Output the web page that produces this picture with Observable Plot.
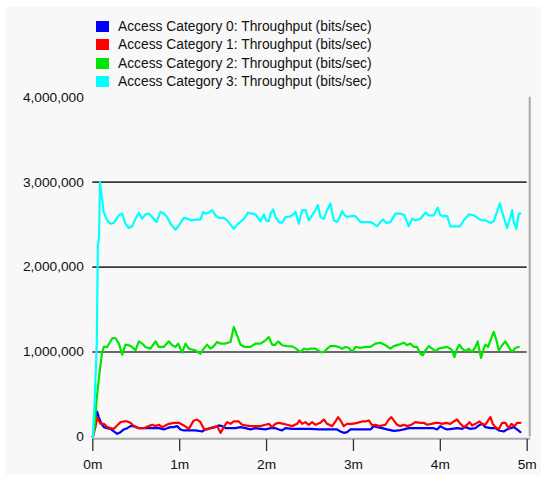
<!DOCTYPE html>
<html>
<head>
<meta charset="utf-8">
<script src="https://cdn.jsdelivr.net/npm/d3@7"></script>
<script src="https://cdn.jsdelivr.net/npm/@observablehq/plot@0.6"></script>
<style>
  html, body { margin: 0; padding: 0; background: #ffffff; }
  #wrap { position: relative; width: 547px; height: 481px; overflow: hidden; font-family: "Liberation Sans", Arial, sans-serif; }
  #panel { position: absolute; left: 6px; top: 7px; width: 535px; height: 468px; background: #f8f8f8; }
  #chart { position: absolute; left: 0; top: 0; }
  #legend { position: absolute; left: 96px; top: 17px; font-size: 13.8px; color: #111; }
  .row { display: flex; align-items: center; height: 18.5px; white-space: nowrap; }
  .sw { width: 13px; height: 11px; margin-right: 9px; flex: none; }
</style>
</head>
<body>
<div id="wrap">
  <div id="panel"></div>
  <div id="chart"></div>
  <div id="legend"></div>
</div>
<script>
// Series names and colours
const seriesNames = [
  "Access Category 0: Throughput (bits/sec)",
  "Access Category 1: Throughput (bits/sec)",
  "Access Category 2: Throughput (bits/sec)",
  "Access Category 3: Throughput (bits/sec)"
];
const seriesColors = ["#0000ff", "#ff0000", "#00e600", "#00ffff"];

// [time (minutes), throughput (Mbit/s)]
const ac0 = [[0,0],[0.031,0.214],[0.05,0.30],[0.069,0.234],[0.10,0.155],[0.127,0.116],[0.165,0.104],[0.204,0.096],[0.242,0.065],[0.28,0.037],[0.319,0.057],[0.357,0.089],[0.396,0.104],[0.434,0.128],[0.472,0.128],[0.53,0.104],[0.606,0.104],[0.683,0.104],[0.76,0.104],[0.817,0.089],[0.856,0.104],[0.894,0.116],[0.932,0.116],[0.971,0.128],[1.009,0.089],[1.048,0.077],[1.105,0.077],[1.182,0.077],[1.259,0.065],[1.297,0.089],[1.354,0.104],[1.412,0.116],[1.45,0.136],[1.489,0.128],[1.527,0.104],[1.585,0.104],[1.642,0.104],[1.70,0.116],[1.757,0.104],[1.815,0.089],[1.872,0.104],[1.93,0.096],[1.987,0.089],[2.045,0.104],[2.102,0.104],[2.141,0.089],[2.179,0.077],[2.217,0.104],[2.294,0.096],[2.409,0.096],[2.505,0.096],[2.601,0.089],[2.678,0.089],[2.755,0.089],[2.812,0.089],[2.851,0.065],[2.889,0.049],[2.927,0.057],[2.966,0.089],[3.062,0.089],[3.138,0.089],[3.196,0.089],[3.234,0.128],[3.272,0.116],[3.33,0.104],[3.387,0.089],[3.464,0.073],[3.522,0.077],[3.579,0.089],[3.637,0.104],[3.713,0.104],[3.79,0.104],[3.867,0.104],[3.924,0.104],[3.963,0.089],[4.001,0.128],[4.039,0.104],[4.078,0.089],[4.135,0.096],[4.193,0.104],[4.251,0.096],[4.289,0.116],[4.347,0.096],[4.404,0.104],[4.443,0.136],[4.481,0.155],[4.519,0.116],[4.577,0.104],[4.634,0.104],[4.672,0.077],[4.73,0.065],[4.768,0.089],[4.807,0.104],[4.845,0.116],[4.883,0.089],[4.922,0.057]];

const ac1 = [[0,0],[0.031,0.12],[0.05,0.23],[0.089,0.155],[0.127,0.155],[0.165,0.116],[0.204,0.104],[0.242,0.096],[0.28,0.136],[0.319,0.175],[0.357,0.183],[0.396,0.183],[0.434,0.167],[0.472,0.128],[0.53,0.104],[0.587,0.104],[0.645,0.128],[0.683,0.144],[0.722,0.128],[0.76,0.144],[0.798,0.116],[0.837,0.136],[0.875,0.155],[0.932,0.167],[0.99,0.167],[1.048,0.136],[1.105,0.096],[1.163,0.195],[1.201,0.206],[1.239,0.175],[1.278,0.096],[1.316,0.089],[1.354,0.104],[1.393,0.116],[1.431,0.128],[1.47,0.049],[1.508,0.116],[1.546,0.175],[1.585,0.155],[1.623,0.183],[1.68,0.183],[1.719,0.144],[1.757,0.136],[1.815,0.128],[1.872,0.128],[1.93,0.128],[1.987,0.144],[2.026,0.155],[2.064,0.116],[2.102,0.155],[2.141,0.167],[2.198,0.155],[2.237,0.144],[2.294,0.128],[2.352,0.155],[2.379,0.195],[2.409,0.155],[2.448,0.175],[2.486,0.144],[2.524,0.175],[2.563,0.144],[2.62,0.167],[2.659,0.206],[2.697,0.155],[2.755,0.128],[2.793,0.183],[2.824,0.234],[2.851,0.195],[2.889,0.128],[2.927,0.155],[2.985,0.155],[3.042,0.167],[3.1,0.183],[3.138,0.183],[3.177,0.195],[3.215,0.136],[3.253,0.144],[3.299,0.128],[3.368,0.144],[3.407,0.206],[3.437,0.234],[3.464,0.195],[3.502,0.144],[3.541,0.128],[3.579,0.144],[3.618,0.128],[3.667,0.144],[3.713,0.175],[3.771,0.167],[3.81,0.167],[3.848,0.144],[3.898,0.155],[3.944,0.167],[3.982,0.167],[4.02,0.155],[4.066,0.167],[4.116,0.155],[4.155,0.183],[4.193,0.206],[4.231,0.155],[4.27,0.116],[4.308,0.144],[4.335,0.175],[4.366,0.136],[4.404,0.155],[4.45,0.183],[4.481,0.155],[4.519,0.144],[4.55,0.195],[4.577,0.234],[4.604,0.155],[4.634,0.116],[4.672,0.089],[4.711,0.167],[4.749,0.167],[4.787,0.104],[4.818,0.155],[4.856,0.128],[4.883,0.167],[4.922,0.167]];

const ac2 = [[0,0],[0.02,0.12],[0.045,0.45],[0.08,0.78],[0.108,1.00],[0.127,1.06],[0.165,1.06],[0.223,1.16],[0.261,1.165],[0.30,1.10],[0.338,0.97],[0.376,1.087],[0.415,1.08],[0.453,1.06],[0.491,1.02],[0.53,1.126],[0.568,1.10],[0.606,1.06],[0.664,1.04],[0.722,1.126],[0.76,1.06],[0.817,1.06],[0.875,1.126],[0.913,1.08],[0.952,1.06],[0.982,1.10],[1.028,0.993],[1.067,1.10],[1.105,1.04],[1.143,1.03],[1.182,1.02],[1.239,0.98],[1.278,1.04],[1.316,1.087],[1.354,1.04],[1.393,1.07],[1.431,1.118],[1.47,1.10],[1.527,1.10],[1.585,1.118],[1.623,1.295],[1.661,1.197],[1.70,1.087],[1.749,1.06],[1.815,1.06],[1.872,1.10],[1.93,1.10],[1.987,1.138],[2.026,1.177],[2.064,1.087],[2.095,1.08],[2.133,1.126],[2.179,1.08],[2.237,1.07],[2.294,1.067],[2.34,1.04],[2.39,1.00],[2.428,1.04],[2.467,1.03],[2.505,1.04],[2.563,1.04],[2.62,1.00],[2.659,1.00],[2.697,1.04],[2.735,1.07],[2.793,1.07],[2.831,1.06],[2.87,1.04],[2.908,1.06],[2.946,1.05],[2.985,1.00],[3.023,1.06],[3.081,1.05],[3.138,1.06],[3.196,1.06],[3.253,1.10],[3.311,1.11],[3.368,1.08],[3.426,1.04],[3.464,1.07],[3.522,1.087],[3.579,1.11],[3.618,1.08],[3.656,1.10],[3.694,1.06],[3.733,1.06],[3.771,0.98],[3.798,0.96],[3.829,1.02],[3.867,1.07],[3.905,1.04],[3.944,1.01],[3.982,1.04],[4.02,1.05],[4.078,1.06],[4.116,1.04],[4.135,1.02],[4.162,0.94],[4.193,1.04],[4.22,1.087],[4.251,1.04],[4.289,1.01],[4.327,1.04],[4.366,1.00],[4.404,1.06],[4.431,1.126],[4.45,1.02],[4.469,0.93],[4.5,1.04],[4.519,1.087],[4.55,1.06],[4.577,1.138],[4.615,1.236],[4.646,1.138],[4.672,1.02],[4.711,1.08],[4.749,1.126],[4.787,1.06],[4.826,1.00],[4.864,1.05],[4.903,1.06]];

const ac3 = [[0,0],[0.02,0.4],[0.046,1.1],[0.058,2.25],[0.072,2.35],[0.083,3.0],[0.095,2.9],[0.11,2.78],[0.125,2.65],[0.165,2.55],[0.204,2.51],[0.242,2.52],[0.30,2.61],[0.338,2.63],[0.376,2.51],[0.415,2.46],[0.453,2.48],[0.491,2.57],[0.53,2.64],[0.568,2.57],[0.606,2.62],[0.645,2.63],[0.683,2.59],[0.733,2.53],[0.779,2.65],[0.817,2.63],[0.856,2.59],[0.894,2.51],[0.952,2.44],[0.99,2.49],[1.048,2.58],[1.086,2.57],[1.144,2.55],[1.201,2.56],[1.239,2.56],[1.27,2.65],[1.297,2.63],[1.335,2.64],[1.374,2.67],[1.412,2.61],[1.45,2.58],[1.508,2.58],[1.546,2.55],[1.585,2.50],[1.623,2.45],[1.661,2.50],[1.719,2.55],[1.757,2.59],[1.784,2.64],[1.834,2.63],[1.872,2.62],[1.93,2.54],[1.968,2.62],[1.995,2.55],[2.026,2.54],[2.045,2.63],[2.076,2.68],[2.102,2.59],[2.141,2.53],[2.179,2.52],[2.217,2.59],[2.256,2.59],[2.294,2.61],[2.333,2.65],[2.371,2.51],[2.409,2.67],[2.448,2.67],[2.486,2.55],[2.524,2.61],[2.563,2.67],[2.59,2.73],[2.62,2.59],[2.659,2.57],[2.697,2.67],[2.735,2.75],[2.774,2.55],[2.812,2.53],[2.843,2.59],[2.87,2.66],[2.9,2.61],[2.927,2.59],[2.966,2.60],[3.023,2.60],[3.081,2.53],[3.138,2.53],[3.196,2.53],[3.234,2.51],[3.272,2.48],[3.311,2.53],[3.341,2.56],[3.38,2.52],[3.426,2.53],[3.483,2.63],[3.541,2.63],[3.587,2.61],[3.637,2.48],[3.675,2.57],[3.713,2.55],[3.771,2.57],[3.828,2.64],[3.867,2.61],[3.924,2.61],[3.97,2.70],[4.001,2.61],[4.039,2.60],[4.078,2.60],[4.116,2.48],[4.155,2.48],[4.224,2.48],[4.27,2.55],[4.327,2.62],[4.385,2.61],[4.442,2.57],[4.481,2.55],[4.519,2.55],[4.577,2.52],[4.615,2.54],[4.653,2.65],[4.684,2.75],[4.718,2.63],[4.768,2.46],[4.807,2.59],[4.826,2.67],[4.845,2.53],[4.876,2.45],[4.903,2.63],[4.922,2.63]];

const yTicks = [0, 1000000, 2000000, 3000000, 4000000];
const gridValues = [1000000, 2000000, 3000000];
const xTicks = [0, 1, 2, 3, 4, 5];
const xTickLabels = ["0m", "1m", "2m", "3m", "4m", "5m"];

const seriesData = [ac0, ac1, ac2, ac3];
const rows = seriesData.flatMap((arr, i) =>
  arr.map(([t, v]) => ({ series: seriesNames[i], t, v: v * 1e6 }))
);

const chart = Plot.plot({
  width: 547,
  height: 481,
  marginLeft: 92.3,
  marginRight: 20.3,
  marginTop: 96.7,
  marginBottom: 44.5,
  x: { domain: [0, 5] },
  y: { domain: [0, 4000000] },
  style: { background: "transparent", fontFamily: "'Liberation Sans', Arial, sans-serif", fontSize: "13.7px", color: "#111" },
  marks: [
    Plot.ruleY(gridValues, { stroke: "#3a3a3a", strokeWidth: 1.6 }),
    Plot.ruleX([5], { y1: 0, y2: 4000000, dx: 2.5, stroke: "#a8a8a8", strokeWidth: 2 }),
    Plot.ruleY([0], { dy: 1.8, stroke: "#a8a8a8", strokeWidth: 2, insetRight: -3.5 }),
    Plot.axisX({ ticks: xTicks, tickFormat: (d, i) => xTickLabels[i], tickSize: 12, tickPadding: 8, dy: 2.5, stroke: "#333", strokeWidth: 1.3, label: null }),
    Plot.axisY({ ticks: yTicks, tickFormat: d3.format(","), tickSize: 0, tickPadding: 9, label: null }),
    ...seriesNames.map((name, i) =>
      Plot.line(rows.filter(r => r.series === name), { x: "t", y: "v", stroke: seriesColors[i], strokeWidth: 2.2 })
    )
  ]
});
document.getElementById("chart").appendChild(chart);

const legend = document.getElementById("legend");
seriesNames.forEach((name, i) => {
  const row = document.createElement("div");
  row.className = "row";
  const sw = document.createElement("span");
  sw.className = "sw";
  sw.style.background = seriesColors[i];
  row.appendChild(sw);
  row.appendChild(document.createTextNode(name));
  legend.appendChild(row);
});
</script>
</body>
</html>
